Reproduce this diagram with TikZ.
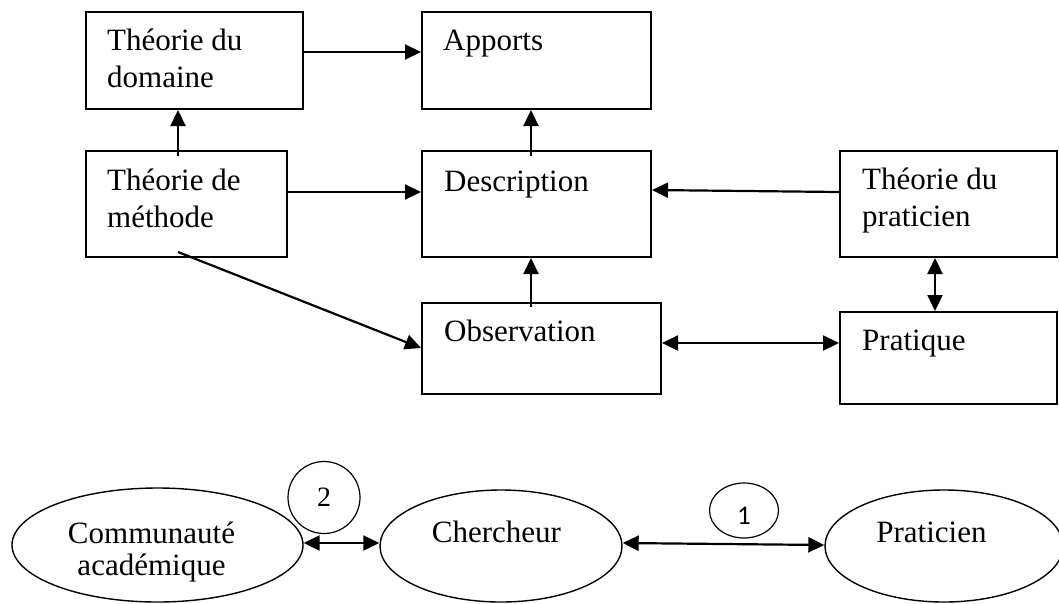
\documentclass[tikz,border=0pt]{standalone}
\usepackage{fontspec}
\setmainfont{Liberation Serif}
\newfontfamily\numfont{Carlito}
\usetikzlibrary{arrows.meta,calc,shapes.geometric}

\begin{document}
\begin{tikzpicture}[x=1pt,y=1pt,yscale=-1,xscale=1,
  box/.style={draw, line width=2pt, inner sep=0pt},
  oval/.style={draw, ellipse, line width=1.4pt, inner sep=0pt},
  txt/.style={anchor=base west, inner sep=0pt, align=left, font=\fontsize{31}{36.5}\selectfont},
  ctxt/.style={anchor=base, inner sep=0pt, align=center, font=\fontsize{31}{32}\selectfont},
  arr/.style={line width=2.2pt, -{Triangle[length=16pt,width=15pt]}},
  darr/.style={line width=2.2pt, {Triangle[length=16pt,width=15pt]}-{Triangle[length=16pt,width=15pt]}}]
\useasboundingbox (0,0) rectangle (1059,603);

% Boxes
\node[box, minimum width=217pt, minimum height=97pt] (dom) at (194.5,60.5) {};
\node[box, minimum width=229pt, minimum height=97pt] (app) at (536.5,60.5) {};
\node[box, minimum width=201pt, minimum height=106pt] (met) at (186.5,204) {};
\node[box, minimum width=229pt, minimum height=106pt] (des) at (536.5,204) {};
\node[box, minimum width=217pt, minimum height=106pt] (thp) at (948.5,204) {};
\node[box, minimum width=239pt, minimum height=91pt] (obs) at (541.5,348.5) {};
\node[box, minimum width=217pt, minimum height=92pt] (prq) at (948.5,358) {};

% Ellipses
\node[oval, minimum width=291pt, minimum height=114pt] (com) at (157.5,545) {};
\node[oval, minimum width=242pt, minimum height=112pt] (che) at (501,546) {};
\node[oval, minimum width=238pt, minimum height=112pt] (prc) at (944,546) {};
\node[circle, draw, line width=1.2pt, minimum size=72pt, inner sep=0pt, font=\fontsize{28}{28}\selectfont] (n2) at (324,497.5) {2};
\node[ellipse, draw, line width=1.2pt, minimum width=69pt, minimum height=55pt, inner sep=0pt, text height=27pt, text depth=0pt, font=\numfont\fontsize{27}{27}\selectfont] (n1) at (744,510.5) {1};

% Arrows
\draw[arr] ($(dom.east)+(0,-8.5)$) -- ($(app.west)+(0,-8.5)$);
\draw[arr] ($(met.north)+(-8.5,6)$) -- ($(dom.south)+(-16.5,0)$);
\draw[arr] ($(met.east)+(0,-12)$) -- ($(des.west)+(0,-12)$);
\draw[arr] ($(met.south)+(-8.5,-6)$) -- ($(obs.west)+(0,-0.5)$);
\draw[arr] ($(des.north)+(-5.5,6)$) -- ($(app.south)+(-5.5,0)$);
\draw[arr] ($(obs.north)+(-10.5,5)$) -- ($(des.south)+(-5.5,0)$);
\draw[arr] ($(thp.west)+(0,-12)$) -- ($(des.east)+(0,-14)$);
\draw[darr] ($(thp.south)+(-13.5,0)$) -- ($(prq.north)+(-13.5,0)$);
\draw[darr] ($(obs.east)+(0,-5.5)$) -- ($(prq.west)+(0,-15)$);
\draw[darr] ($(com.east)+(0,-2)$) -- ($(che.west)+(0,-3)$);
\draw[darr] ($(che.east)+(0,-3)$) -- ($(prc.west)+(0,-1)$);

% Text Node (two-line texts sit on the baseline of their last line)
\node[txt] (dom-t) at (107,87) {Théorie du\\domaine};
\node[txt] (app-t) at (443,50) {Apports};
\node[txt] (met-t) at (107,227) {Théorie de\\méthode};
\node[txt] (des-t) at (444,191) {Description};
\node[txt] (thp-t) at (862,226) {Théorie du\\praticien};
\node[txt] (obs-t) at (444,341) {Observation};
\node[txt] (prq-t) at (862,350) {Pratique};
\node[ctxt] (com-t) at (151.5,575) {Communauté\\académique};
\node[ctxt] (che-t) at (496.5,542) {Chercheur};
\node[ctxt] (prc-t) at (931.5,542) {Praticien};

\end{tikzpicture}
\end{document}
